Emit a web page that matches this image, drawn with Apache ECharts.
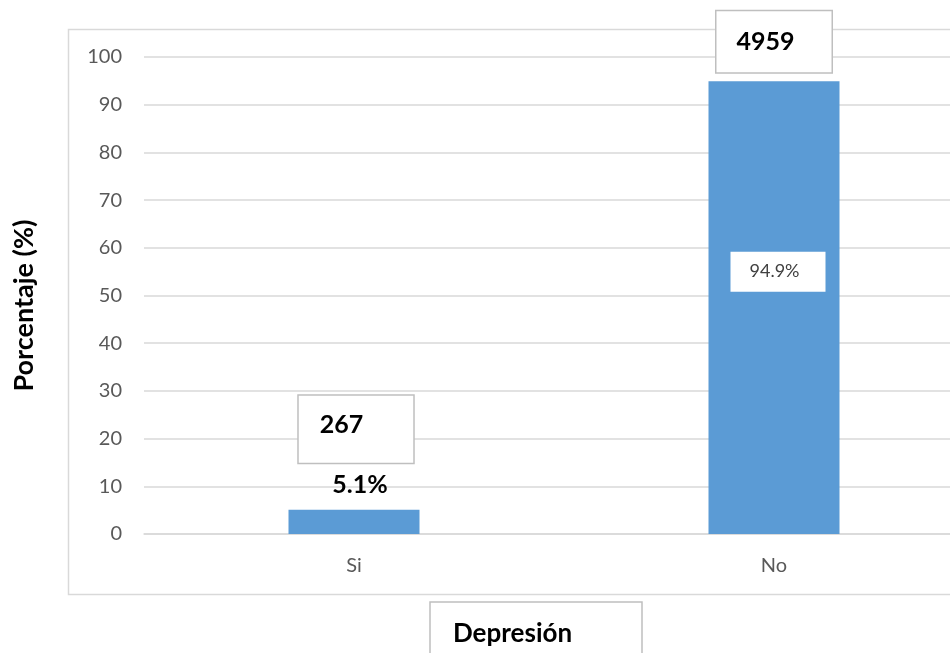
<!DOCTYPE html>
<html>
<head>
<meta charset="utf-8">
<script src="https://cdn.jsdelivr.net/npm/echarts@6/dist/echarts.min.js"></script>
<style>
html,body{margin:0;padding:0;background:#fff;overflow:hidden;width:950px;height:653px;}
#main{width:984px;height:653px;}
</style>
</head>
<body>
<div id="main"></div>
<script>
// ---- data ----
var categories = ['Si', 'No'];
var percentages = [5.1, 94.9];
var counts = [267, 4959];
var pctLabels = ['5.1%', '94.9%'];
var yTicks = [0, 10, 20, 30, 40, 50, 60, 70, 80, 90, 100];
var xAxisTitle = 'Depresión';
var yAxisTitle = 'Porcentaje (%)';

var FONT = 'Lato, "Open Sans", sans-serif';
var chart = echarts.init(document.getElementById('main'));

var pctLabelStyles = [
  { show: true, position: 'top', distance: 13, offset: [6, 0],
    fontFamily: FONT, fontSize: 25, fontWeight: 'bold', color: '#000', lineHeight: 24 },
  { show: true, position: 'inside', offset: [4, -36],
    fontFamily: FONT, fontSize: 18, color: '#404040', lineHeight: 18,
    backgroundColor: '#fff', padding: [11, 26, 11, 19] }
];
var countLabelStyles = [
  { distance: 47, offset: [2, 0], padding: [17, 50, 26, 21] },
  { distance: 9, offset: [0, 0], padding: [19, 37, 18, 20] }
];

var option = {
  animation: false,
  backgroundColor: '#fff',
  title: {
    text: xAxisTitle,
    left: 430, top: 602,
    padding: [19, 70, 30, 23],
    borderColor: '#bfbfbf', borderWidth: 1.5, backgroundColor: '#fff',
    textStyle: { fontFamily: FONT, fontSize: 26, fontWeight: 'bold', color: '#000', lineHeight: 26 }
  },
  graphic: [{
    type: 'rect', z: 0, silent: true,
    shape: { x: 68.5, y: 29.5, width: 1000, height: 565 },
    style: { fill: 'none', stroke: '#d9d9d9', lineWidth: 1.5 }
  }],
  grid: { left: 144, right: 0, top: 57, bottom: 119, containLabel: false },
  xAxis: {
    type: 'category',
    data: categories,
    axisLine: { show: true, lineStyle: { color: '#d9d9d9', width: 1.5 } },
    axisTick: { show: false },
    axisLabel: { margin: 22, fontFamily: FONT, fontSize: 20, color: '#595959' },
    splitLine: { show: false }
  },
  yAxis: {
    type: 'value',
    min: yTicks[0], max: yTicks[yTicks.length - 1], interval: yTicks[1] - yTicks[0],
    name: yAxisTitle,
    nameLocation: 'middle',
    nameRotate: 90,
    nameGap: 106,
    nameTextStyle: { fontFamily: FONT, fontSize: 27, fontWeight: 'bold', color: '#000', padding: [0, 20, 0, 0] },
    axisLine: { show: false },
    axisTick: { show: false },
    axisLabel: { margin: 22, fontFamily: FONT, fontSize: 20, color: '#595959' },
    splitLine: { show: true, lineStyle: { color: '#d9d9d9', width: 1.5 } }
  },
  series: [
    {
      name: 'Porcentaje',
      type: 'bar',
      barWidth: 131,
      z: 2,
      itemStyle: { color: '#5b9bd5' },
      data: percentages.map(function (v, i) {
        return { value: v, label: pctLabelStyles[i] };
      }),
      label: {
        formatter: function (p) { return pctLabels[p.dataIndex]; }
      }
    },
    {
      name: 'N',
      type: 'bar',
      barWidth: 131,
      barGap: '-100%',
      z: 3,
      itemStyle: { color: 'rgba(0,0,0,0)' },
      data: percentages.map(function (v, i) {
        var s = countLabelStyles[i];
        return {
          value: v,
          label: {
            show: true, position: 'top', distance: s.distance, offset: s.offset,
            padding: s.padding,
            fontFamily: FONT, fontSize: 25, fontWeight: 'bold', color: '#000', lineHeight: 24,
            backgroundColor: '#fff', borderColor: '#bfbfbf', borderWidth: 1.5
          }
        };
      }),
      label: {
        formatter: function (p) { return String(counts[p.dataIndex]); }
      }
    }
  ]
};
chart.setOption(option);
</script>
</body>
</html>
